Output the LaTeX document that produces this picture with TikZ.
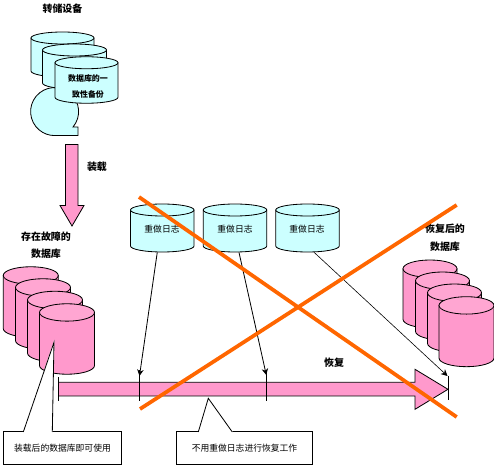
\documentclass[tikz,border=0pt]{standalone}
\usepackage{fontspec}
\setmainfont{Noto Sans CJK SC}
\usetikzlibrary{positioning, arrows.meta, shapes.geometric, calc}
\definecolor{tealfill}{HTML}{CCFFFF}
\definecolor{pinkfill}{HTML}{FF99CC}
\definecolor{pinktop}{HTML}{FFA6D2}
\definecolor{crossline}{HTML}{FF6600}
% name, x, y, width, height, end radius, body colour, end colour
\newcommand{\dbcyl}[8]{
  \begin{scope}[shift={(#2,#3)}]
    \draw[fill=#7] (-#4/2,#5/2-#6) -- (-#4/2,-#5/2+#6) arc[x radius=#4/2, y radius=#6, start angle=180, end angle=360] -- (#4/2,#5/2-#6) -- cycle;
    \draw[fill=#8] (0,#5/2-#6) ellipse[x radius=#4/2, y radius=#6];
    \node[minimum width=#4*0.03cm, minimum height=#5*0.03cm, inner sep=0pt] (#1) at (0,0) {};
  \end{scope}
}

\begin{document}
\begin{tikzpicture}[>={Stealth[length=5.5pt,width=5.5pt]}, x=0.03cm, y=0.03cm, line width=0.7pt,
    title/.style={font=\fontsize{8.5}{15}\selectfont\bfseries, align=center, inner sep=0pt},
    small/.style={font=\fontsize{7.5}{10}\selectfont, inner sep=0pt},
    note/.style={draw, fill=white, inner sep=0pt, font=\fontsize{7.5}{10}\selectfont},
    cross/.style={crossline, line width=3.2pt},
    thinline/.style={line width=0.5pt}]
  \useasboundingbox (0,0) rectangle (494,468);

  \node[title] (store) at (62.5,459) {转储设备};
  \draw[fill=tealfill] (78,332.5) -- (78,341) -- (73,341) arc[start angle=-40, end angle=270, radius=24] -- cycle;
  \dbcyl{bak1}{62.5}{413.5}{63}{45}{6}{tealfill}{tealfill}
  \dbcyl{bak2}{74.5}{401.5}{64}{45}{6}{tealfill}{tealfill}
  \dbcyl{bak3}{86.5}{388}{63}{46.5}{6}{tealfill}{tealfill}
  \node[font=\fontsize{6.8}{14}\selectfont\bfseries, align=center, inner sep=0pt] (baktext) at (88,381.5) {数据库的一\\致性备份};

  \draw[fill=pinkfill] (65.5,323.5) -- (78,323.5) -- (78,262.5) -- (84,262.5) -- (72,242) -- (60,262.5) -- (65.5,262.5) -- cycle;
  \node[title] (load) at (97,301) {装载};

  \node[title] (faulty) at (46,223) {存在故障的\\数据库};
  \dbcyl{bad1}{30.75}{166}{55}{70.5}{8.7}{pinkfill}{pinktop}
  \dbcyl{bad2}{43}{154}{55}{70.5}{8.7}{pinkfill}{pinktop}
  \dbcyl{bad3}{55}{141.5}{55}{70.5}{8.7}{pinkfill}{pinktop}
  \dbcyl{bad4}{67}{129}{55}{70.5}{8.7}{pinkfill}{pinktop}

  \node[title] (done) at (445,230.5) {恢复后的\\数据库};
  \dbcyl{good1}{430}{174}{54}{68}{8.7}{pinkfill}{pinktop}
  \dbcyl{good2}{442.5}{162}{54}{68}{8.7}{pinkfill}{pinktop}
  \dbcyl{good3}{454.5}{150}{54}{68}{8.7}{pinkfill}{pinktop}
  \dbcyl{good4}{466.5}{136.3}{55}{70}{8.7}{pinkfill}{pinktop}

  \dbcyl{log1}{162.25}{240}{63.5}{48}{6}{tealfill}{tealfill}
  \dbcyl{log2}{235}{240}{63.5}{48}{6}{tealfill}{tealfill}
  \dbcyl{log3}{307.5}{240}{63.5}{48}{6}{tealfill}{tealfill}
  \foreach \i/\x in {1/162, 2/235, 3/307}
    \node[small] (logtext\i) at (\x,238.5) {重做日志};

  \draw[fill=pinkfill] (58.5,85.7) -- (415,85.7) -- (415,98.7) -- (448,78.7) -- (415,58.7) -- (415,72) -- (58.5,72) -- cycle;
  \node[title] (recover) at (334,105) {恢复};

  \coordinate (bar) at (58.5,91);
  \coordinate (barend) at (58.5,67.3);
  \coordinate (tick1) at (139.5,92);
  \coordinate (tick1a) at (139.5,98);
  \coordinate (tick1b) at (139.5,67.3);
  \coordinate (tick2) at (266.3,93);
  \coordinate (tick2a) at (266.3,98);
  \coordinate (tick2b) at (266.3,67.3);
  \coordinate (tick3) at (447.5,92);
  \coordinate (tick3a) at (448.3,92);
  \coordinate (tick3b) at (448.3,68);
  \draw (bar) -- (barend);
  \draw (tick1a) -- (tick1b);
  \draw (tick2a) -- (tick2b);
  \draw (tick3a) -- (tick3b);
  \draw[->] ([xshift=-0.15cm]log1.south) -- (tick1);
  \draw[->] ([xshift=0.12cm]log2.south) -- (tick2);
  \draw[->, thinline] ([xshift=0.2cm]log3.south) -- (tick3);

  \node[note, minimum width=3.55cm, minimum height=0.98cm] (note1) at (62.5,20) {装载后的数据库即可使用};
  \coordinate (tip1) at (54,125.7);
  \coordinate (base1a) at (23.3,36);
  \coordinate (base1b) at (52.3,36);
  \fill[white, draw=white] (base1a) -- (tip1) -- (base1b) -- cycle;
  \draw (base1a) -- (tip1) -- (base1b);

  \node[note, minimum width=4.09cm, minimum height=0.98cm] (note2) at (244.5,20) {不用重做日志进行恢复工作};
  \coordinate (tip2) at (208.3,69.7);
  \coordinate (base2a) at (198.3,36);
  \coordinate (base2b) at (232.3,36);
  \fill[white, draw=white] (base2a) -- (tip2) -- (base2b) -- cycle;
  \draw (base2a) -- (tip2) -- (base2b);

  \coordinate (cross1a) at (139,271);
  \coordinate (cross1b) at (456.7,51);
  \coordinate (cross2a) at (140,59);
  \coordinate (cross2b) at (456.7,263);
  \draw[cross] (cross1a) -- (cross1b);
  \draw[cross] (cross2a) -- (cross2b);
\end{tikzpicture}
\end{document}
